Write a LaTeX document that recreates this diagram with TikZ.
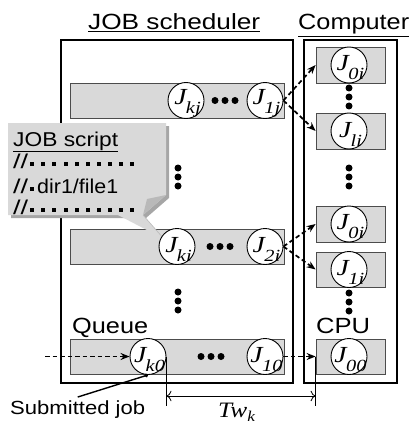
\documentclass[tikz,border=0pt]{standalone}
\usepackage{fontspec}
\usepackage{graphicx}
\setmainfont{Liberation Sans}
\newfontfamily\tms{Liberation Serif}
\usetikzlibrary{arrows.meta}
\newcommand{\Jl}[1]{\scalebox{1.2}[1]{\fontsize{23}{23}\selectfont\tms\itshape J\kern-0.5pt\raisebox{-9pt}{\fontsize{17}{17}\selectfont #1}}}
\newcommand{\fw}[3]{\resizebox{#1pt}{\height}{\fontsize{#2}{#2}\selectfont #3}}
\begin{document}
\begin{tikzpicture}[x=1pt,y=-1pt,
  rowbox/.style={draw=black!70, line width=0.8pt, fill=gray!30, inner sep=0pt},
  jc/.style={circle, draw, line width=0.9pt, fill=white, minimum size=36pt, inner sep=0pt},
  jl/.style={inner sep=0pt, xshift=1.5pt, yshift=-3pt},
  frame/.style={draw, line width=2.8pt, inner sep=0pt},
  darr/.style={dash pattern=on 4.5pt off 3pt, line width=1.7pt, -{Stealth[length=9pt,width=7pt]}},
  lab/.style={anchor=base west, inner sep=0pt},
  vdot/.style={circle, fill, inner sep=0pt, minimum size=7pt}]
\useasboundingbox (0,0) rectangle (413,425);
% frames
\node[frame, minimum width=232pt, minimum height=343pt] (sched) at (177,211.5) {};
\node[frame, minimum width=93pt, minimum height=343pt] (comp) at (350.5,211.5) {};
% queue rows
\node[rowbox, minimum width=214pt, minimum height=35pt] (r1) at (177,100.5) {};
\node[rowbox, minimum width=214pt, minimum height=35pt] (r2) at (177,246.5) {};
\node[rowbox, minimum width=214pt, minimum height=35pt] (r3) at (177,356.5) {};
% computer cells
\node[rowbox, minimum width=69pt, minimum height=36pt] (c1) at (350.5,65) {};
\node[rowbox, minimum width=69pt, minimum height=36pt] (c2) at (350.5,131) {};
\node[rowbox, minimum width=69pt, minimum height=36pt] (c3) at (350.5,224) {};
\node[rowbox, minimum width=69pt, minimum height=35pt] (c4) at (350.5,269.5) {};
\node[rowbox, minimum width=69pt, minimum height=35pt] (c5) at (350.5,356.5) {};
% dots
\foreach \x in {215,225,235} \node[vdot] at (\x,100.5) {};
\foreach \x in {210,220,230} \node[vdot] at (\x,246.5) {};
\foreach \x in {201,211,221} \node[vdot] at (\x,356.5) {};
\foreach \y in {168,177,186} \node[vdot] at (178,\y) {};
\foreach \y in {292,301,310} \node[vdot] at (178,\y) {};
\foreach \y in {88,97,106} \node[vdot] at (349,\y) {};
\foreach \y in {168,177,186} \node[vdot] at (349,\y) {};
\foreach \y in {293,302,311} \node[vdot] at (349,\y) {};
% callout
\fill[gray!70] (11,126) -- (169,126) -- (169,198) -- (146,218) -- (11,218) -- cycle;
\fill[gray!30] (118,215) -- (143,215) -- (164,239) -- cycle;
\draw[gray!55, line width=0.6pt] (143,215) -- (164,239);
\fill[gray!30] (8,123) -- (166,123) -- (166,195) -- (143,215) -- (8,215) -- cycle;
\fill[gray!55] (166,195) -- (143,215) -- (147,199) -- cycle;
\node[lab] (jst) at (13,146) {\fw{105}{20}{\underline{JOB script}}};
\node[lab] (l1) at (13,168) {\fw{15}{20}{//}};
\node[lab] (l2) at (13,193) {\fw{15}{20}{//}};
\node[lab] (l2b) at (37,193) {\fw{81}{20}{dir1/file1}};
\node[lab] (l3) at (13,214) {\fw{15}{20}{//}};
\foreach \x in {32,43,54,66,77,88,99,110,121,132} {
  \fill (\x-2,161.8) rectangle ++(4,4);
  \fill (\x-2,207.8) rectangle ++(4,4);
}
\fill (30,186.8) rectangle ++(4,4);
% job circles
\node[jc, label={[jl]center:\Jl{kj}}] (Jkj) at (186,100.5) {};
\node[jc, label={[jl]center:\Jl{1j}}] (J1j) at (265,100.5) {};
\node[jc, label={[jl]center:\Jl{0i}}] (Ja0) at (349,65) {};
\node[jc, label={[jl]center:\Jl{li}}] (Jal) at (349,131) {};
\node[jc, label={[jl]center:\Jl{ki}}] (Jki) at (177,246.5) {};
\node[jc, label={[jl]center:\Jl{2i}}] (J2i) at (265,246.5) {};
\node[jc, label={[jl]center:\Jl{0i}}] (Jb0) at (349,224) {};
\node[jc, label={[jl]center:\Jl{1i}}] (Jb1) at (349,269.5) {};
\node[jc, label={[jl]center:\Jl{k0}}] (Jk0) at (148,356.5) {};
\node[jc, label={[jl]center:\Jl{10}}] (J10) at (265,356.5) {};
\node[jc, label={[jl]center:\Jl{00}}] (J00) at (349,356.5) {};
% arrows
\draw[darr] (J1j.east) -- (c1.west);
\draw[darr] (J1j.east) -- (c2.west);
\draw[darr] (J2i.east) -- (c3.west);
\draw[darr] (J2i.east) -- (c4.west);
\coordinate (qin) at (45,356.5);
\draw[darr] (qin) -- (Jk0.west);
\draw[darr] (J10.east) -- (c5.west);
% titles and labels
\node[lab] (t1) at (88,30) {\fw{172}{22}{\underline{JOB scheduler}}};
\node[lab] (t2) at (298,30) {\fw{111}{22}{\underline{Computer}}};
\node[lab] (queue) at (72,333) {\fw{76}{22}{Queue}};
\node[lab] (cpu) at (316,333) {\fw{54}{22}{CPU}};
\node[lab] (sub) at (10,414) {\fw{135}{19}{Submitted job}};
\draw[line width=1.4pt, -{Circle[length=3.5pt]}] (sub.north) ++(0,-3) -- (Jk0.south);
% Tw_k
\coordinate (twy) at (0,396);
\coordinate (tbot) at (0,406);
\draw[line width=0.8pt] (Jk0.east) -- (Jk0.east |- tbot);
\draw[line width=0.8pt] (c5.west) -- (c5.west |- tbot);
\draw[line width=0.8pt, {To[length=5pt]}-{To[length=5pt]}] (Jk0.east |- twy) -- (c5.west |- twy);
\node[lab] (tw) at (218,417) {\scalebox{1.15}[1]{\fontsize{22}{22}\selectfont\tms\itshape Tw\raisebox{-4pt}{\fontsize{15}{15}\selectfont k}}};
\end{tikzpicture}
\end{document}
